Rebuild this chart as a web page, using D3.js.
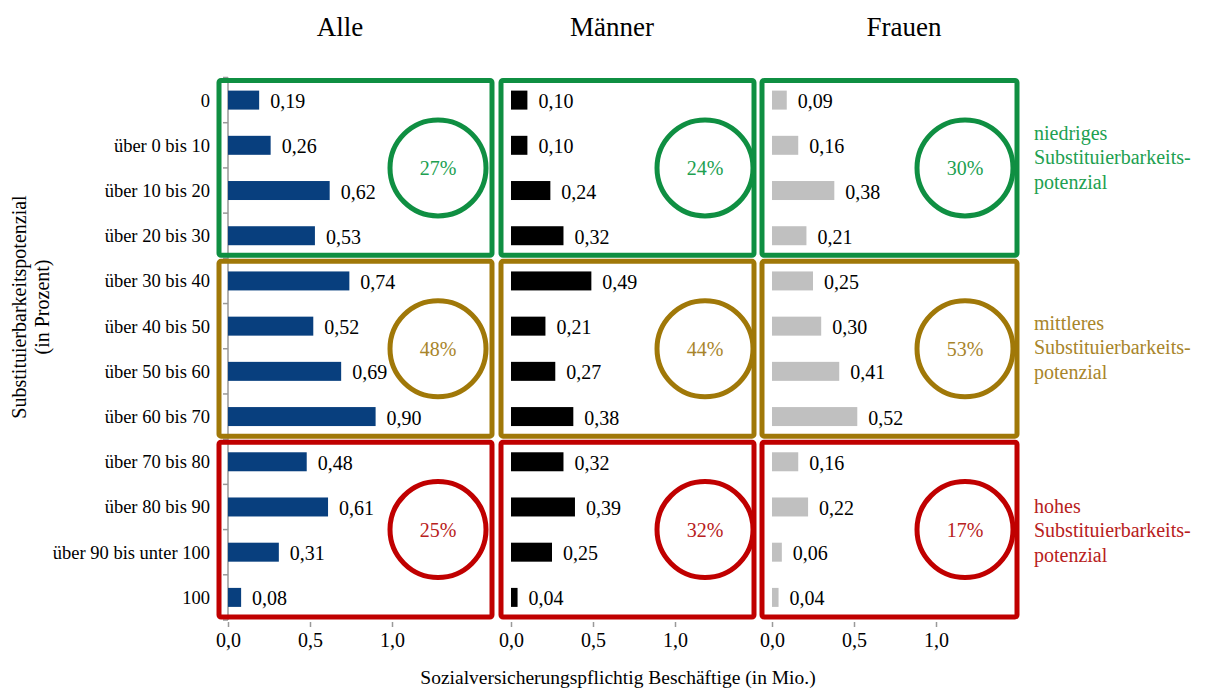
<!DOCTYPE html>
<html>
<head>
<meta charset="utf-8">
<script src="https://cdn.jsdelivr.net/npm/d3@7"></script>
<style>
  body { margin: 0; background: #fff; }
</style>
</head>
<body>
<script>
// categories (Substituierbarkeitspotenzial in Prozent)
const categories = ["0", "über 0 bis 10", "über 10 bis 20", "über 20 bis 30",
  "über 30 bis 40", "über 40 bis 50", "über 50 bis 60", "über 60 bis 70",
  "über 70 bis 80", "über 80 bis 90", "über 90 bis unter 100", "100"];

// employees in millions
const alleValues   = [0.19, 0.26, 0.62, 0.53, 0.74, 0.52, 0.69, 0.90, 0.48, 0.61, 0.31, 0.08];
const maennerValues = [0.10, 0.10, 0.24, 0.32, 0.49, 0.21, 0.27, 0.38, 0.32, 0.39, 0.25, 0.04];
const frauenValues = [0.09, 0.16, 0.38, 0.21, 0.25, 0.30, 0.41, 0.52, 0.16, 0.22, 0.06, 0.04];

const panelNames = ["Alle", "Männer", "Frauen"];
const groupNames = ["niedriges", "mittleres", "hohes"];
const groupShares = [
  ["27%", "48%", "25%"],   // Alle
  ["24%", "44%", "32%"],   // Männer
  ["30%", "53%", "17%"]    // Frauen
];
const xTicks = [0, 0.5, 1.0];

const groupColors = ["#0f8f42", "#a07808", "#c00000"];
const groupTextColors = ["#20a050", "#a8852a", "#b82020"];
const barColors = ["#083f7e", "#000000", "#c0c0c0"];

const W = 1211, H = 690;
const FONT = "'Liberation Serif', 'DejaVu Serif', serif";

// panel layout: zero position, box edges, circle centre
const panels = [
  { x0: 228, boxL: 219, boxR: 492, cx: 438, hx: 340, values: alleValues },
  { x0: 511, boxL: 501, boxR: 754, cx: 705, hx: 612, values: maennerValues },
  { x0: 772, boxL: 762, boxR: 1017, cx: 965, hx: 904, values: frauenValues }
];
panels.forEach((p, i) => { p.name = panelNames[i]; p.color = barColors[i]; p.shares = groupShares[i]; });

const svg = d3.select("body").append("svg")
  .attr("width", W)
  .attr("height", H)
  .attr("font-family", FONT);

const y = d3.scaleBand()
  .domain(categories)
  .range([77.5, 620])
  .paddingInner(0.58)
  .paddingOuter(0.29);

const step = y.step();
const bandTop = i => y.range()[0] + i * step;

function label(sel, size) {
  return sel.style("font-family", FONT).style("font-size", size + "px");
}

// column headers
svg.selectAll(".head")
  .data(panels)
  .enter().append("text")
  .attr("x", d => d.hx)
  .attr("y", 36)
  .attr("text-anchor", "middle")
  .call(label, 27)
  .text(d => d.name);

// category labels
svg.selectAll(".cat")
  .data(categories)
  .enter().append("text")
  .attr("x", 210)
  .attr("y", d => y(d) + y.bandwidth() / 2)
  .attr("dy", "0.35em")
  .attr("text-anchor", "end")
  .call(label, 18.5)
  .text(d => d);

// y axis line and tick marks of the first panel
svg.append("line")
  .attr("x1", 228).attr("x2", 228)
  .attr("y1", bandTop(0)).attr("y2", bandTop(12))
  .style("stroke", "#999").style("stroke-width", 1.5);

svg.selectAll(".ytick")
  .data(d3.range(13))
  .enter().append("line")
  .attr("x1", 223).attr("x2", 228)
  .attr("y1", d => bandTop(d)).attr("y2", d => bandTop(d))
  .style("stroke", "#999").style("stroke-width", 1.5);

const comma = d => d3.format(".2f")(d).replace(".", ",");

panels.forEach(p => {
  const x = d3.scaleLinear().domain([0, 1]).range([p.x0, p.x0 + 164]);

  // x axis
  const ax = svg.append("g")
    .attr("transform", `translate(0, 622)`)
    .call(d3.axisBottom(x).tickValues(xTicks).tickSize(5).tickPadding(6)
      .tickFormat(d => d3.format(".1f")(d).replace(".", ",")));
  ax.attr("font-family", FONT);
  ax.select(".domain").remove();
  ax.selectAll(".tick line").style("stroke", "#999").style("stroke-width", 1.5);
  ax.selectAll(".tick text").call(label, 20).style("fill", "#000");

  // group boxes
  groupNames.forEach((g, gi) => {
    const top = bandTop(gi * 4) + 3;
    const bot = bandTop(gi * 4 + 4) - 3;
    svg.append("rect")
      .attr("x", p.boxL).attr("y", top)
      .attr("width", p.boxR - p.boxL).attr("height", bot - top)
      .attr("rx", 2)
      .style("fill", "none")
      .style("stroke", groupColors[gi])
      .style("stroke-width", 5);

    const cy = (bandTop(gi * 4) + bandTop(gi * 4 + 4)) / 2;
    svg.append("circle")
      .attr("cx", p.cx).attr("cy", cy).attr("r", 48)
      .style("fill", "none")
      .style("stroke", groupColors[gi])
      .style("stroke-width", 5);
    svg.append("text")
      .attr("x", p.cx).attr("y", cy)
      .attr("dy", "0.35em")
      .attr("text-anchor", "middle")
      .call(label, 20)
      .style("fill", groupTextColors[gi])
      .text(p.shares[gi]);
  });

  // bars
  svg.selectAll(null)
    .data(p.values)
    .enter().append("rect")
    .attr("x", x(0))
    .attr("y", (d, i) => y(categories[i]))
    .attr("width", d => x(d) - x(0))
    .attr("height", y.bandwidth())
    .style("fill", p.color);

  // value labels
  svg.selectAll(null)
    .data(p.values)
    .enter().append("text")
    .attr("x", d => x(d) + 11)
    .attr("y", (d, i) => y(categories[i]) + y.bandwidth() / 2)
    .attr("dy", "0.4em")
    .call(label, 20)
    .text(d => comma(d));
});

// group legend on the right
const legendShift = [-35, -26, -24];
groupNames.forEach((g, gi) => {
  const cy = (bandTop(gi * 4) + bandTop(gi * 4 + 4)) / 2;
  const t = svg.append("text")
    .attr("x", 1034)
    .attr("y", cy + legendShift[gi])
    .call(label, 20)
    .style("fill", groupTextColors[gi]);
  [g, "Substituierbarkeits-", "potenzial"].forEach((line, li) => {
    t.append("tspan").attr("x", 1034).attr("dy", li === 0 ? "0.35em" : "24.5px").text(line);
  });
});

// axis titles
svg.append("text")
  .attr("x", 618).attr("y", 684)
  .attr("text-anchor", "middle")
  .call(label, 19.5)
  .text("Sozialversicherungspflichtig Beschäftige (in Mio.)");

svg.append("text")
  .attr("transform", "translate(26, 307) rotate(-90)")
  .attr("text-anchor", "middle")
  .call(label, 20)
  .text("Substituierbarkeitspotenzial");

svg.append("text")
  .attr("transform", "translate(49, 307) rotate(-90)")
  .attr("text-anchor", "middle")
  .call(label, 20)
  .text("(in Prozent)");
</script>
</body>
</html>
